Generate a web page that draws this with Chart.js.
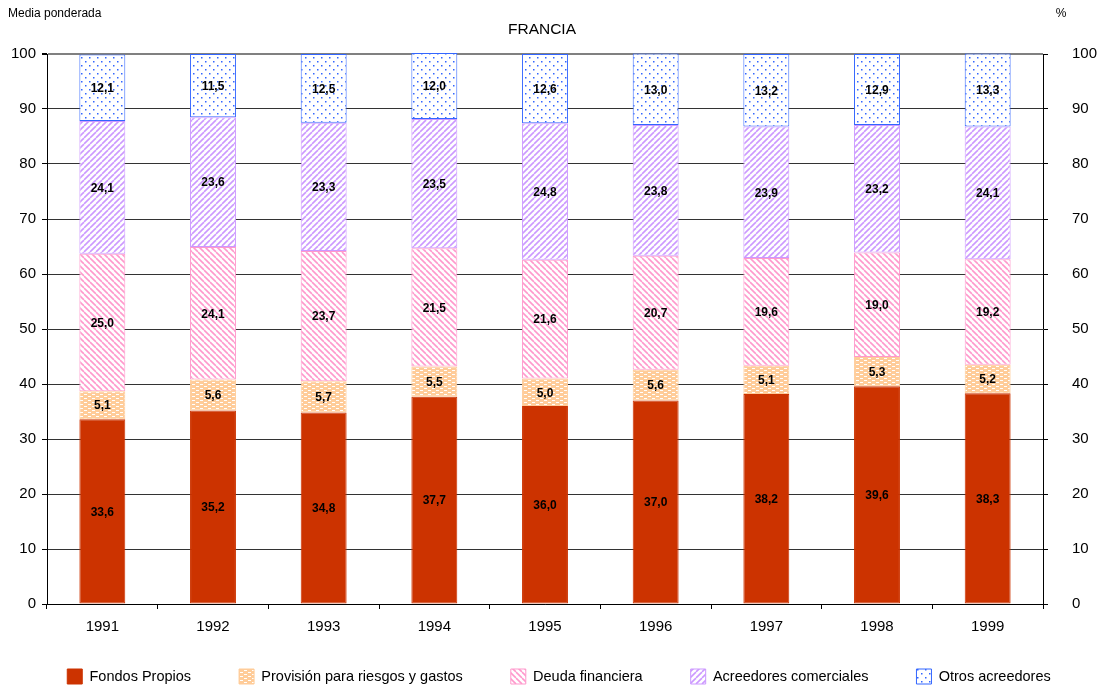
<!DOCTYPE html>
<html>
<head>
<meta charset="utf-8">
<script src="https://cdn.jsdelivr.net/npm/chart.js@4"></script>
<style>
  html, body { margin: 0; padding: 0; background: #fff; }
  #wrap { width: 1104px; height: 689px; position: relative; }
</style>
</head>
<body>
<div id="wrap"><canvas id="chart" width="1104" height="689"></canvas></div>
<script>
const years = ['1991', '1992', '1993', '1994', '1995', '1996', '1997', '1998', '1999'];
const fondosPropios = [33.6, 35.2, 34.8, 37.7, 36.0, 37.0, 38.2, 39.6, 38.3];
const provision     = [5.1, 5.6, 5.7, 5.5, 5.0, 5.6, 5.1, 5.3, 5.2];
const deudaFin      = [25.0, 24.1, 23.7, 21.5, 21.6, 20.7, 19.6, 19.0, 19.2];
const acreedoresCom = [24.1, 23.6, 23.3, 23.5, 24.8, 23.8, 23.9, 23.2, 24.1];
const otrosAcreed   = [12.1, 11.5, 12.5, 12.0, 12.6, 13.0, 13.2, 12.9, 13.3];
const yTicks = [0, 10, 20, 30, 40, 50, 60, 70, 80, 90, 100];

const FONT = 'Liberation Sans, Arial, Helvetica, sans-serif';

// small repeating fills for the hatched segments
function tile(w, h, draw) {
  const c = document.createElement('canvas');
  c.width = w; c.height = h;
  const g = c.getContext('2d');
  draw(g, w, h);
  return g.createPattern(c, 'repeat');
}

const dashFill = tile(8, 4, (g, w, h) => {
  g.fillStyle = '#FFCC99'; g.fillRect(0, 0, w, h);
  g.fillStyle = '#ffffff';
  g.fillRect(0, 0, 3, 1);
  g.fillRect(4, 2, 3, 1);
});

const backslashFill = tile(6, 6, (g, w, h) => {
  g.fillStyle = '#ffffff'; g.fillRect(0, 0, w, h);
  g.strokeStyle = '#FF99CC'; g.lineWidth = 1.6;
  for (let k = -1; k <= 1; k++) {
    g.beginPath(); g.moveTo(k * w, 0); g.lineTo(k * w + w, h); g.stroke();
  }
});

const slashFill = tile(6, 6, (g, w, h) => {
  g.fillStyle = '#ffffff'; g.fillRect(0, 0, w, h);
  g.strokeStyle = '#CC99FF'; g.lineWidth = 1.6;
  for (let k = -1; k <= 1; k++) {
    g.beginPath(); g.moveTo(k * w, h); g.lineTo(k * w + w, 0); g.stroke();
  }
});

const dotFill = tile(8, 8, (g, w, h) => {
  g.fillStyle = '#ffffff'; g.fillRect(0, 0, w, h);
  g.fillStyle = '#3366FF';
  g.fillRect(1, 1, 1.5, 1.5);
  g.fillRect(5, 5, 1.5, 1.5);
});

// value labels centred in each segment
const segmentLabels = {
  id: 'segmentLabels',
  afterDatasetsDraw(chart) {
    const ctx = chart.ctx;
    ctx.save();
    ctx.font = 'bold 12px ' + FONT;
    ctx.fillStyle = '#000';
    ctx.textAlign = 'center';
    ctx.textBaseline = 'middle';
    chart.data.datasets.forEach((ds, i) => {
      chart.getDatasetMeta(i).data.forEach((bar, j) => {
        const y = (bar.y + bar.base) / 2;
        ctx.fillText(ds.data[j].toFixed(1).replace('.', ','), bar.x, y + 1);
      });
    });
    ctx.restore();
  }
};

// header texts: unit notes and country title
const header = {
  id: 'header',
  afterDraw(chart) {
    const ctx = chart.ctx;
    ctx.save();
    ctx.fillStyle = '#000';
    ctx.textBaseline = 'middle';
    ctx.font = '12px ' + FONT;
    ctx.textAlign = 'left';
    ctx.fillText('Media ponderada', 8, 14);
    ctx.textAlign = 'center';
    ctx.fillText('%', 1061, 14);
    ctx.font = '15.5px ' + FONT;
    ctx.fillText('FRANCIA', 542, 30);
    ctx.restore();
  }
};

// the wide item spacing makes the legend box tall; pull it back up
const legendNudge = {
  id: 'legendNudge',
  afterLayout(chart) {
    const lg = chart.legend;
    if (!lg) return;
    lg.top -= 24; lg.bottom -= 24;
    lg.left += 7; lg.right += 7;
  }
};

const seriesStyle = (fill, border) => ({
  backgroundColor: fill,
  borderColor: border,
  borderWidth: 1,
  borderSkipped: false,
  categoryPercentage: 1,
  barPercentage: 0.415,
  clip: false
});

new Chart(document.getElementById('chart'), {
  type: 'bar',
  data: {
    labels: years,
    datasets: [
      { label: 'Fondos Propios', data: fondosPropios, ...seriesStyle('#CC3300', '#CC3300') },
      { label: 'Provisión para riesgos y gastos', data: provision, ...seriesStyle(dashFill, '#FFCC99') },
      { label: 'Deuda financiera', data: deudaFin, ...seriesStyle(backslashFill, '#FF99CC') },
      { label: 'Acreedores comerciales', data: acreedoresCom, ...seriesStyle(slashFill, '#CC99FF') },
      { label: 'Otros acreedores', data: otrosAcreed, ...seriesStyle(dotFill, '#3366FF') }
    ]
  },
  options: {
    responsive: false,
    animation: false,
    layout: { padding: { top: 54, left: 0, right: 0, bottom: -29 } },
    plugins: {
      legend: {
        position: 'bottom',
        labels: {
          color: '#000',
          font: { family: FONT, size: 14.5 },
          boxWidth: 15,
          boxHeight: 15,
          padding: 48
        }
      },
      tooltip: { enabled: false },
      title: { display: false }
    },
    scales: {
      x: {
        stacked: true,
        border: { color: '#000', width: 1 },
        grid: { offset: true, drawOnChartArea: false, drawTicks: true, tickLength: 5, color: '#000' },
        ticks: { color: '#000', font: { family: FONT, size: 15 }, padding: 9 }
      },
      y: {
        stacked: true,
        min: 0, max: 100,
        afterBuildTicks: s => { s.ticks = yTicks.map(v => ({ value: v })); },
        afterFit: s => { s.width = 47; },
        border: { color: '#000', width: 1 },
        grid: {
          color: ctx => ctx.tick && ctx.tick.value === 100 ? '#808080' : '#333',
          lineWidth: ctx => ctx.tick && ctx.tick.value === 100 ? 2 : 1,
          tickLength: 5,
          tickColor: '#000'
        },
        ticks: { color: '#000', font: { family: FONT, size: 15 }, padding: 6 }
      },
      y2: {
        position: 'right',
        min: 0, max: 100,
        afterBuildTicks: s => { s.ticks = yTicks.map(v => ({ value: v })); },
        afterFit: s => { s.width = 61; },
        border: { color: '#000', width: 1 },
        grid: { drawOnChartArea: false, tickLength: 5, color: '#000' },
        ticks: { color: '#000', font: { family: FONT, size: 15 }, padding: 24 }
      }
    }
  },
  plugins: [segmentLabels, header, legendNudge]
});
</script>
</body>
</html>
